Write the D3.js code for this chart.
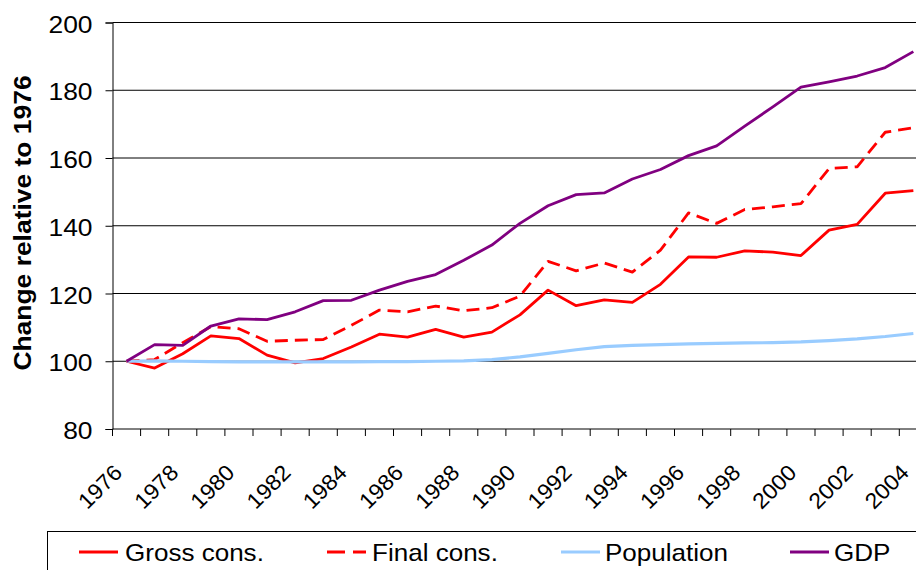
<!DOCTYPE html>
<html>
<head>
<meta charset="utf-8">
<script src="https://cdn.jsdelivr.net/npm/d3@7"></script>
<style>
  html, body { margin: 0; padding: 0; background: #fff; }
  svg { display: block; font-family: "Liberation Sans", Arial, sans-serif; }
</style>
</head>
<body>
<svg id="chart" width="916" height="570"></svg>
<script>
// Years on the category axis
const years = d3.range(1976, 2005);
const yearLabels = years.filter(y => (y - 1976) % 2 === 0);

// Indexed series (1976 = 100)
const grossCons = [100, 98.0, 102.2, 107.5, 106.7, 101.8, 99.5, 100.8, 104.2, 108.0,
  107.1, 109.4, 107.1, 108.6, 113.7, 121.0, 116.4, 118.1, 117.4, 122.7,
  130.8, 130.7, 132.6, 132.2, 131.2, 138.7, 140.4, 149.6, 150.4];
const finalCons = [100, 100.5, 105.5, 110.2, 109.6, 105.9, 106.2, 106.4, 110.6, 115.1,
  114.6, 116.3, 114.9, 115.8, 119.2, 129.5, 126.7, 129.0, 126.3, 132.8,
  143.8, 140.7, 144.8, 145.6, 146.5, 156.9, 157.4, 167.6, 168.9];
const population = [100, 100.1, 100.0, 99.9, 99.8, 99.8, 99.8, 99.8, 99.8, 99.9,
  99.9, 100.0, 100.1, 100.5, 101.3, 102.3, 103.4, 104.3, 104.7, 104.9,
  105.1, 105.3, 105.4, 105.5, 105.7, 106.1, 106.6, 107.3, 108.2];
const gdp = [100, 104.9, 104.7, 110.4, 112.5, 112.3, 114.6, 117.9, 118.0, 121.0,
  123.6, 125.6, 129.8, 134.3, 140.7, 145.9, 149.2, 149.7, 153.8, 156.6,
  160.7, 163.6, 169.4, 175.1, 180.9, 182.5, 184.2, 186.7, 191.4];

const yTicks = [80, 100, 120, 140, 160, 180, 200];

const seriesNames = ["Gross cons.", "Final cons.", "Population", "GDP"];
const seriesColors = ["#FF0000", "#FF0000", "#99CCFF", "#800080"];
const seriesDash = [null, "13,7", null, null];
const seriesValues = [grossCons, finalCons, population, gdp];

const svg = d3.select("#chart");

const plotLeft = 112.5, plotTop = 22.5, plotBottom = 429;
const step = 28.1;
const plotRight = plotLeft + step * years.length;

const x = d3.scalePoint()
  .domain(years)
  .range([plotLeft + step / 2, plotRight - step / 2]);

const y = d3.scaleLinear()
  .domain([80, 200])
  .range([plotBottom, plotTop]);

// Horizontal gridlines
svg.append("g")
  .selectAll("line")
  .data(yTicks.filter(t => t > 80))
  .join("line")
  .attr("x1", plotLeft).attr("x2", plotRight)
  .attr("y1", d => y(d)).attr("y2", d => y(d))
  .attr("stroke", "#000").attr("stroke-width", 1);

// Y axis
const yAxis = d3.axisLeft(y).tickValues(yTicks).tickSize(7).tickPadding(13);
const gy = svg.append("g")
  .attr("transform", `translate(${plotLeft},0)`)
  .call(yAxis);
gy.select(".domain").attr("stroke", "#000");
gy.selectAll(".tick line").attr("stroke", "#000");
gy.selectAll(".tick text")
  .attr("font-size", 24)
  .attr("fill", "#000")
  .attr("x", null)
  .attr("dy", null)
  .attr("dominant-baseline", "central")
  .attr("transform", "translate(-20,1) scale(1.1,1)");

// X axis: tick marks sit between categories
const xAxisG = svg.append("g");
xAxisG.append("line")
  .attr("x1", plotLeft).attr("x2", plotRight)
  .attr("y1", plotBottom).attr("y2", plotBottom)
  .attr("stroke", "#000");
xAxisG.selectAll("line.tick")
  .data(d3.range(years.length + 1))
  .join("line")
  .attr("class", "tick")
  .attr("x1", i => plotLeft + i * step).attr("x2", i => plotLeft + i * step)
  .attr("y1", plotBottom).attr("y2", plotBottom + 7)
  .attr("stroke", "#000");
xAxisG.selectAll("text")
  .data(yearLabels)
  .join("text")
  .attr("font-size", 22)
  .attr("fill", "#000")
  .attr("text-anchor", "end")
  .attr("transform", d => `translate(${x(d) - 3},${plotBottom + 45}) rotate(-45) scale(1.05,1)`)
  .text(d => d);

// Axis title
svg.append("text")
  .attr("font-size", 23)
  .attr("font-weight", "bold")
  .attr("fill", "#000")
  .attr("text-anchor", "middle")
  .attr("transform", "translate(31,223) rotate(-90) scale(1.15,1)")
  .text("Change relative to 1976");

// Series lines
const line = d3.line()
  .x((d, i) => x(years[i]))
  .y(d => y(d));

svg.append("g")
  .selectAll("path")
  .data(seriesValues)
  .join("path")
  .attr("d", d => line(d))
  .attr("fill", "none")
  .attr("stroke", (d, i) => seriesColors[i])
  .attr("stroke-width", (d, i) => i === 2 ? 3.2 : 2.8)
  .attr("stroke-dasharray", (d, i) => seriesDash[i])
  .attr("stroke-linejoin", "round");

// Legend
const legend = svg.append("g");
legend.append("rect")
  .attr("x", 47.5).attr("y", 531.5)
  .attr("width", 900).attr("height", 60)
  .attr("fill", "#fff").attr("stroke", "#000").attr("stroke-width", 1);

const legendLineX = [79, 327, 561, 790];
const legendTextX = [125, 372, 605, 834];
const legendY = 552;

seriesNames.forEach((name, i) => {
  legend.append("line")
    .attr("x1", legendLineX[i]).attr("x2", legendLineX[i] + 39)
    .attr("y1", legendY).attr("y2", legendY)
    .attr("stroke", seriesColors[i])
    .attr("stroke-width", i === 2 ? 3.2 : 2.8)
    .attr("stroke-dasharray", i === 1 ? "18,8" : null);
  legend.append("text")
    .attr("font-size", 24)
    .attr("fill", "#000")
    .attr("transform", `translate(${legendTextX[i]},${legendY + 9}) scale(1.085,1)`)
    .text(name);
});
</script>
</body>
</html>
